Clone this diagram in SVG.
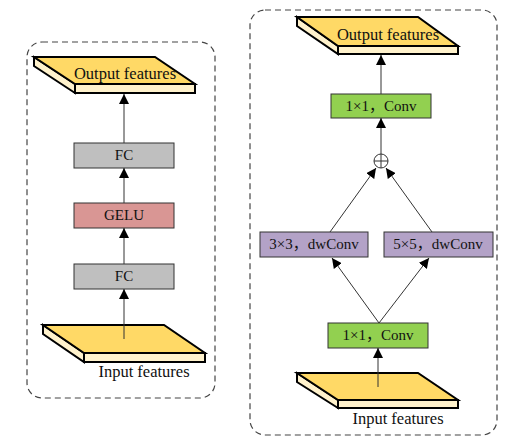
<svg xmlns="http://www.w3.org/2000/svg" width="512" height="442" viewBox="0 0 512 442">
<defs>
<marker id="ah" viewBox="0 0 10 10" refX="10" refY="5" markerWidth="10" markerHeight="10" markerUnits="userSpaceOnUse" orient="auto">
<path d="M0,0 L10,5 L0,10 z" fill="#000"/>
</marker>
<style>
.panel{fill:none;stroke:#444;stroke-width:1.2;stroke-dasharray:6 4}
.top{fill:#FFD966;stroke:#000;stroke-width:2;stroke-linejoin:miter}
.side{fill:#FFF2CC;stroke:#000;stroke-width:2}
.t{font-family:"Liberation Serif","Noto Sans CJK SC",serif;font-size:15px;fill:#111;text-anchor:middle}
.big{font-size:16.5px}
.box{stroke:#333;stroke-width:1}
.fc{fill:#BFBFBF}
.gelu{fill:#D99694}
.conv{fill:#92D050}
.dw{fill:#B3A2C7}
.a{stroke:#333;stroke-width:1;fill:none;marker-end:url(#ah)}
</style>
</defs>
<rect class="panel" x="27" y="42" width="188" height="356" rx="15"/>
<rect class="panel" x="250" y="10" width="247" height="425" rx="15"/>

<g id="left-output">
<path class="side" d="M34,57 L75,84 L75,93 L34,66 Z"/>
<rect class="side" x="75" y="84" width="120" height="9"/>
<path class="top" d="M34,57 L155,57 L195,84 L75,84 Z"/>
<text class="t big" x="125" y="79">Output features</text>
</g>
<g id="left-fc2"><rect class="box fc" x="74" y="143" width="100" height="25"/><text class="t" x="124" y="160">FC</text></g>
<g id="left-gelu"><rect class="box gelu" x="74" y="203" width="100" height="25"/><text class="t" x="124" y="220">GELU</text></g>
<g id="left-fc1"><rect class="box fc" x="74" y="264" width="100" height="25"/><text class="t" x="124" y="281">FC</text></g>
<g id="left-input">
<path class="side" d="M43,325 L84,353 L84,362 L43,334 Z"/>
<rect class="side" x="84" y="353" width="121" height="9"/>
<path class="top" d="M43,325 L164,325 L205,353 L84,353 Z"/>
<text class="t big" x="144" y="377">Input features</text>
</g>

<g id="right-output">
<path class="side" d="M297,17 L338,46 L338,54 L297,26 Z"/>
<rect class="side" x="338" y="46" width="120" height="8"/>
<path class="top" d="M297,17 L418,17 L458,46 L338,46 Z"/>
<text class="t big" x="388" y="40">Output features</text>
</g>
<g id="right-conv2"><rect class="box conv" x="331" y="94" width="100" height="24"/><text class="t" x="381" y="111">1×1，Conv</text></g>
<g id="add">
<circle cx="381" cy="161" r="7" fill="#fff" stroke="#333" stroke-width="1"/>
<path d="M374,161 H388 M381,154 V168" stroke="#333" stroke-width="1"/>
</g>
<g id="dw3"><rect class="box dw" x="260" y="232" width="108" height="25"/><text class="t" x="314" y="249">3×3，dwConv</text></g>
<g id="dw5"><rect class="box dw" x="384" y="232" width="109" height="25"/><text class="t" x="438" y="249">5×5，dwConv</text></g>
<g id="right-conv1"><rect class="box conv" x="328" y="323" width="100" height="25"/><text class="t" x="378" y="340">1×1，Conv</text></g>
<g id="right-input">
<path class="side" d="M297,373 L338,400 L338,408 L297,382 Z"/>
<rect class="side" x="338" y="400" width="120" height="8"/>
<path class="top" d="M297,373 L418,373 L458,400 L338,400 Z"/>
<text class="t big" x="398" y="424">Input features</text>
</g>

<g id="connectors">
<line class="a" x1="124" y1="339" x2="124" y2="289"/>
<line class="a" x1="124" y1="264" x2="124" y2="228"/>
<line class="a" x1="124" y1="203" x2="124" y2="168"/>
<line class="a" x1="124" y1="143" x2="124" y2="94"/>
<line class="a" x1="378" y1="387" x2="378" y2="348"/>
<line class="a" x1="379" y1="323" x2="332" y2="258"/>
<line class="a" x1="379" y1="323" x2="429" y2="258"/>
<line class="a" x1="330" y1="232" x2="376" y2="168"/>
<line class="a" x1="432" y1="232" x2="386" y2="168"/>
<line class="a" x1="381" y1="154" x2="381" y2="118"/>
<line class="a" x1="381" y1="94" x2="381" y2="55"/>
</g>
</svg>
